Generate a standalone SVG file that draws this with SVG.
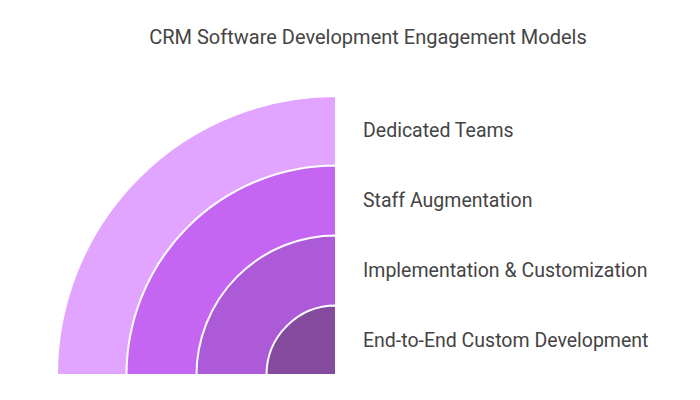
<svg xmlns="http://www.w3.org/2000/svg" width="700" height="400" viewBox="0 0 700 400">
<style>
.t{font-family:Roboto,"Liberation Sans",sans-serif;fill:#444444;font-size:19.5px}
.h{font-size:20px}
.s{stroke:#ffffff;stroke-width:2}
</style>
<rect width="700" height="400" fill="#ffffff"/>
<text class="t h" x="368" y="44" text-anchor="middle">CRM Software Development Engagement Models</text>
<g id="dedicated-teams">
<path class="s" fill="#E1A4FF" d="M336,375 L57,375 A279,279 0 0 1 336,96 Z"/>
<text class="t" x="363" y="137">Dedicated Teams</text>
</g>
<g id="staff-augmentation">
<path class="s" fill="#C466F1" d="M336,375 L126.5,375 A209.5,209.5 0 0 1 336,165.5 Z"/>
<text class="t" x="363" y="207">Staff Augmentation</text>
</g>
<g id="implementation-customization">
<path class="s" fill="#AD5AD8" d="M336,375 L196.5,375 A139.5,139.5 0 0 1 336,235.5 Z"/>
<text class="t" x="363" y="277">Implementation &amp; Customization</text>
</g>
<g id="end-to-end">
<path class="s" fill="#844A9E" d="M336,375 L266.5,375 A69.5,69.5 0 0 1 336,305.5 Z"/>
<text class="t" x="363" y="347">End-to-End Custom Development</text>
</g>
<g id="connectors"></g>
</svg>
